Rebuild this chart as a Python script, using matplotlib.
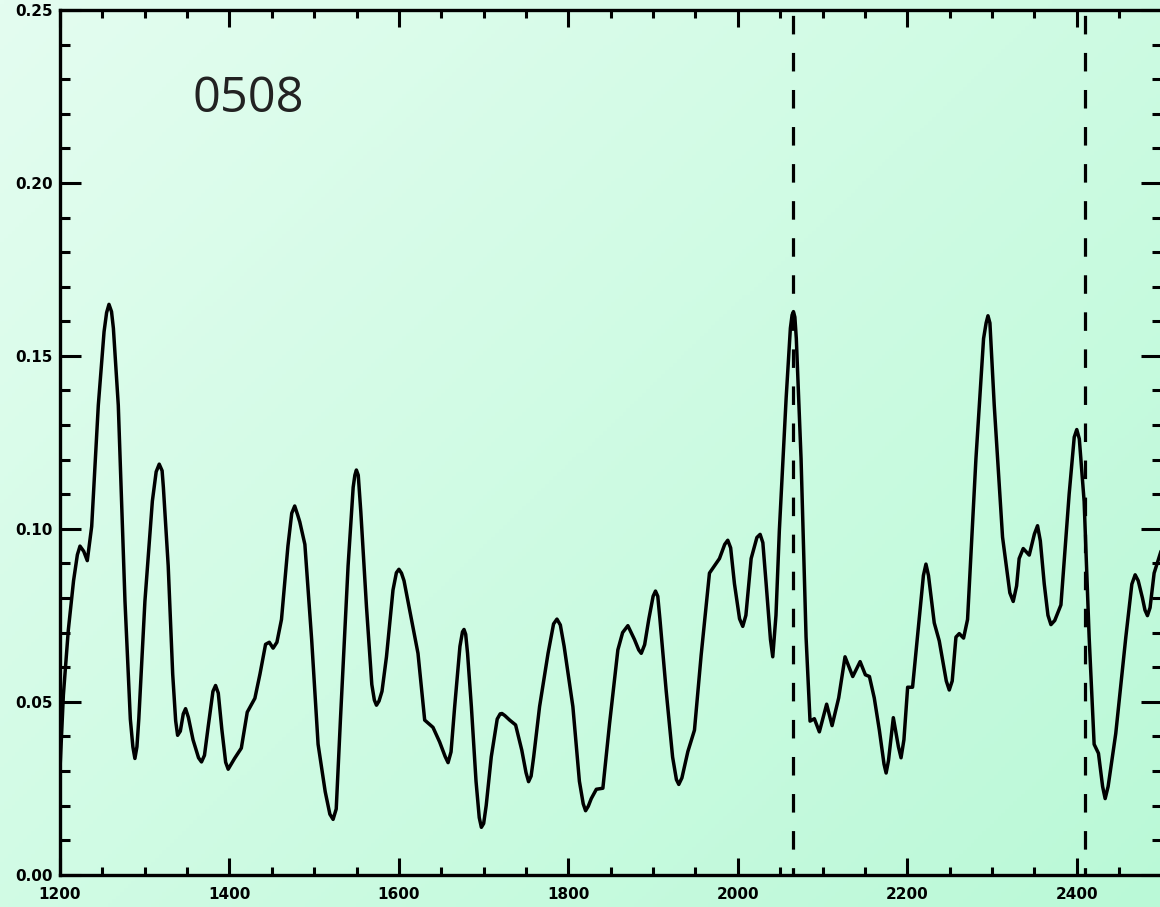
import numpy as np
import matplotlib
matplotlib.use("Agg")
import matplotlib.pyplot as plt
from matplotlib.ticker import MultipleLocator, FormatStrFormatter

# ---- data ----
wavelength = [1200, 1204, 1209.8, 1216, 1220.5, 1223.6, 1228, 1232.2, 1237.4, 1245.2, 1252, 1255, 1257.8,
              1260.8, 1263, 1268.8, 1276.7, 1283, 1286, 1288.4, 1290.8, 1293, 1300.2, 1309, 1313.5,
              1317.1, 1320.5, 1322, 1327.7, 1333, 1336.5, 1338.8, 1342, 1345.5, 1348.2, 1351.5, 1357,
              1363.5, 1367, 1370.5, 1375, 1380.5, 1383.6, 1386.8, 1391, 1395.5, 1398.5, 1406, 1414, 1421,
              1430, 1436, 1442.6, 1447, 1451.5, 1456, 1461.4, 1469, 1473.5, 1477, 1480.5, 1483, 1489,
              1497, 1504.6, 1513, 1518.5, 1522.3, 1526, 1531, 1540, 1546, 1548, 1549.8, 1552, 1555,
              1561.7, 1568, 1571, 1573.5, 1576.5, 1580, 1585.3, 1593, 1597, 1600, 1603, 1606, 1612.7,
              1622.5, 1630.4, 1640.2, 1648, 1654.5, 1658, 1661.5, 1665.8, 1672, 1675, 1676.8, 1678.8,
              1681, 1685.5, 1691, 1694.8, 1697.3, 1700, 1703, 1709, 1716, 1719.5, 1721.6, 1725, 1730.7,
              1737.7, 1745, 1750, 1753, 1756, 1759, 1766, 1776, 1782.5, 1786.5, 1790.5, 1795, 1805.3,
              1813, 1817.5, 1820.3, 1823.5, 1827, 1833, 1840.7, 1848.6, 1858.4, 1864, 1870.2, 1878,
              1883, 1886, 1890, 1895, 1900, 1902.8, 1905.5, 1908, 1915.4, 1923, 1927.5, 1930.3, 1934,
              1941, 1948.8, 1956.7, 1966.5, 1978.3, 1984.5, 1988.1, 1991.5, 1996, 2002, 2005.8, 2009.5,
              2015.7, 2022.5, 2026.3, 2029.5, 2033.4, 2038.5, 2041.2, 2045, 2049, 2057, 2062, 2064,
              2065.6, 2067.3, 2069, 2074.6, 2080.5, 2085.2, 2090.3, 2096.2, 2104.8, 2111.2, 2119,
              2126.5, 2135.6, 2144.3, 2150.5, 2155.3, 2161, 2167, 2172.5, 2175, 2177.8, 2183.5, 2189.5,
              2192.6, 2196, 2200.4, 2206.2, 2213.2, 2219, 2222, 2225, 2231.8, 2237.7, 2246, 2249.5,
              2253, 2257.4, 2261.3, 2266.4, 2271.1, 2281, 2290, 2293, 2295.2, 2297.5, 2300, 2302.6,
              2312.4, 2321, 2325, 2329, 2332, 2336.8, 2343.9, 2350, 2353.7, 2357, 2361.6, 2366,
              2369.5, 2374, 2381.3, 2391, 2397, 2400, 2403, 2408.7, 2414.6, 2420.5, 2425.6, 2430.5,
              2433.5, 2437, 2446, 2457.9, 2465, 2468.9, 2472.5, 2477.5, 2480.5, 2483.4, 2486.5,
              2491.3, 2500]
power = [0.0305, 0.052, 0.0707, 0.085, 0.0925, 0.0950, 0.0935, 0.0908, 0.1007, 0.1357, 0.157, 0.1625,
         0.1649, 0.1628, 0.158, 0.1357, 0.079, 0.045, 0.037, 0.0336, 0.037, 0.045, 0.079, 0.108, 0.1165,
         0.1187, 0.1168, 0.112, 0.0893, 0.058, 0.0445, 0.0403, 0.0415, 0.0465, 0.048, 0.0455, 0.039,
         0.0338, 0.0326, 0.0345, 0.043, 0.053, 0.0547, 0.0525, 0.042, 0.0325, 0.0305, 0.0336, 0.0366, 0.047,
         0.051, 0.058, 0.0666, 0.0672, 0.0655, 0.0672, 0.0738, 0.095, 0.1045, 0.1066, 0.104, 0.102, 0.0955,
         0.068, 0.0377, 0.024, 0.0175, 0.016, 0.019, 0.045, 0.0893, 0.112, 0.1155, 0.117, 0.1155, 0.105,
         0.0775, 0.055, 0.0505, 0.049, 0.0502, 0.053, 0.063, 0.0823, 0.0873, 0.0883, 0.0872, 0.085, 0.0765,
         0.064, 0.0447, 0.0426, 0.0384, 0.0342, 0.0324, 0.0355, 0.0486, 0.066, 0.0702, 0.0709, 0.0695,
         0.064, 0.0486, 0.027, 0.0165, 0.0137, 0.0148, 0.02, 0.0341, 0.045, 0.0465, 0.0466, 0.046, 0.0447,
         0.0433, 0.036, 0.0295, 0.0269, 0.0285, 0.034, 0.0486, 0.064, 0.0725, 0.0739, 0.0722, 0.066, 0.0486,
         0.027, 0.0205, 0.0185, 0.0198, 0.022, 0.0247, 0.025, 0.0437, 0.065, 0.07, 0.072, 0.068,
         0.065, 0.064, 0.0665, 0.074, 0.0805, 0.082, 0.0805, 0.074, 0.0532, 0.034, 0.0275, 0.0261, 0.028,
         0.0356, 0.0418, 0.0635, 0.0872, 0.0914, 0.0955, 0.0967, 0.0945, 0.0841, 0.074, 0.0718, 0.075,
         0.0914, 0.0975, 0.0984, 0.096, 0.0841, 0.068, 0.063, 0.075, 0.0996, 0.1378, 0.158, 0.1618,
         0.1628, 0.1612, 0.155, 0.1203, 0.0687, 0.0444, 0.0451, 0.0413, 0.0493, 0.0431, 0.0511,
         0.063, 0.0573, 0.0616, 0.0578, 0.0573, 0.0511, 0.0418, 0.032, 0.0294, 0.033, 0.0454, 0.037,
         0.0338, 0.039, 0.0542, 0.0542, 0.0718, 0.0865, 0.0898, 0.0865, 0.0728, 0.0676, 0.056, 0.0534,
         0.056, 0.0687, 0.0697, 0.0684, 0.0738, 0.1203, 0.155, 0.1595, 0.1616, 0.1595, 0.148, 0.1357,
         0.0976, 0.0815, 0.079, 0.0835, 0.0914, 0.0943, 0.0924, 0.0985, 0.1009, 0.0965, 0.0841, 0.075,
         0.0723, 0.0735, 0.078, 0.11, 0.1265, 0.1287, 0.126, 0.1079, 0.0687, 0.0377, 0.0351, 0.0255,
         0.022, 0.0255, 0.0408, 0.0687, 0.084, 0.0867, 0.085, 0.08, 0.0765, 0.0749, 0.0772,
         0.0872, 0.094]
marker_lines = [2065.5, 2410]
label_text = "0508"
x_range = (1200, 2500)
y_range = (0.0, 0.25)

# ---- figure ----
W, H = 1160, 907
fig = plt.figure(figsize=(W / 100, H / 100), dpi=100)

# diagonal background gradient
bg = fig.add_axes([0, 0, 1, 1], zorder=0)
bg.axis("off")
gx, gy = np.meshgrid(np.linspace(0, 1, 300), np.linspace(0, 1, 240))
t = (gx * 0.55 + gy * 0.45)
c0 = np.array([228, 253, 240]) / 255.0
c1 = np.array([186, 249, 215]) / 255.0
img = c0[None, None, :] * (1 - t[..., None]) + c1[None, None, :] * t[..., None]
bg.imshow(img, extent=[0, 1, 0, 1], aspect="auto", origin="upper")
bg.set_xlim(0, 1)
bg.set_ylim(0, 1)

left = 60 / W
right = 1161.5 / W
bottom = 1 - 874.7 / H
top = 1 - 10 / H
ax = fig.add_axes([left, bottom, right - left, top - bottom], zorder=1)
ax.patch.set_alpha(0)

ax.plot(wavelength, power, color="black", lw=2.5, solid_joinstyle="round",
        solid_capstyle="round", zorder=3)
for xv in marker_lines:
    ax.axvline(xv, color="black", lw=2.3, linestyle=(3.5, (5.8, 5.8)), zorder=2)

ax.text(1356.5, 0.2205, label_text, fontsize=35, family="Open Sans",
        color="#222222", ha="left", va="baseline")

ax.set_xlim(*x_range)
ax.set_ylim(*y_range)
ax.xaxis.set_major_locator(MultipleLocator(200))
ax.xaxis.set_minor_locator(MultipleLocator(50))
ax.yaxis.set_major_locator(MultipleLocator(0.05))
ax.yaxis.set_minor_locator(MultipleLocator(0.01))
ax.yaxis.set_major_formatter(FormatStrFormatter("%.2f"))

for s in ax.spines.values():
    s.set_linewidth(2.4)

ax.tick_params(axis="y", which="major", direction="in", length=15, width=2.2,
               left=True, right=True, pad=5)
ax.tick_params(axis="y", which="minor", direction="in", length=7.5, width=2.2,
               left=True, right=True)
ax.tick_params(axis="x", which="major", direction="in", length=12.5, width=2.2,
               top=True, bottom=True, pad=9)
ax.tick_params(axis="x", which="minor", direction="in", length=6, width=2.2,
               top=True, bottom=True)
for lab in ax.get_xticklabels() + ax.get_yticklabels():
    lab.set_fontsize(11)
    lab.set_fontweight("bold")

fig.savefig("out.png", dpi=100)
